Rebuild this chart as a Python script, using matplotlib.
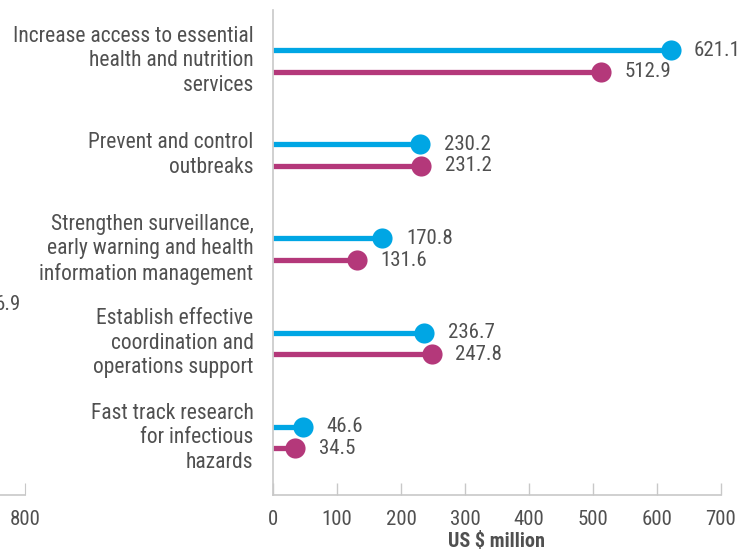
import matplotlib.pyplot as plt
from matplotlib import font_manager

############################### Données
categories = [
    "Increase access to essential\nhealth and nutrition\nservices",
    "Prevent and control\noutbreaks",
    "Strengthen surveillance,\nearly warning and health\ninformation management",
    "Establish effective\ncoordination and\noperations support",
    "Fast track research\nfor infectious\nhazards",
]
serie_bleue = [621.1, 230.2, 170.8, 236.7, 46.6]
serie_magenta = [512.9, 231.2, 131.6, 247.8, 34.5]
x_ticks = [0, 100, 200, 300, 400, 500, 600, 700]
x_label = "US $ million"

BLEU = "#00A6E4"
MAGENTA = "#B4387A"
GRIS_TEXTE = "#505050"
GRIS_AXE = "#c8c8c8"

noms = {f.name for f in font_manager.fontManager.ttflist}
police = next((p for p in ["Roboto Condensed", "Liberation Sans Narrow", "Lato", "Roboto"] if p in noms),
              "DejaVu Sans")
plt.rcParams['font.family'] = [police, 'DejaVu Sans']

W, H = 754, 556
fig = plt.figure(figsize=(W / 100, H / 100), dpi=100)

# Axe principal (pixels -> fraction)
gauche, droite, haut, bas = 273, 721, 10, 495
ax = fig.add_axes([gauche / W, 1 - bas / H, (droite - gauche) / W, (bas - haut) / H])

FS = 15.5
FS_VAL = 15
decalage = 0.115
y = list(range(len(categories)))
for i in y:
    for val, dy, col in [(serie_bleue[i], -decalage, BLEU), (serie_magenta[i], decalage, MAGENTA)]:
        ax.plot([0, val], [i + dy, i + dy], color=col, lw=3.8, solid_capstyle='butt', zorder=2)
        ax.plot([val], [i + dy], 'o', color=col, ms=14.5, mec='none', zorder=3)
        ax.annotate(f"{val:.1f}", (val, i + dy), xytext=(17, 0), textcoords='offset points',
                    va='center', ha='left', fontsize=FS_VAL, color=GRIS_TEXTE)
    ax.annotate(categories[i], (0, i), xytext=(-14, 0), textcoords='offset points',
                va='center', ha='right', fontsize=FS, color=GRIS_TEXTE, linespacing=1.22,
                annotation_clip=False)

ax.set_xlim(0, 700)
ax.set_ylim(len(categories) - 1 + 0.61, -0.54)
ax.set_xticks(x_ticks)
ax.set_yticks([])
ax.tick_params(axis='x', direction='in', length=9, color=GRIS_AXE, labelcolor=GRIS_TEXTE,
               labelsize=FS_VAL, pad=11, width=1)
for s in ['top', 'right']:
    ax.spines[s].set_visible(False)
for s in ['left', 'bottom']:
    ax.spines[s].set_color(GRIS_AXE)
    ax.spines[s].set_linewidth(1.2)
ax.set_xlabel(x_label, fontsize=14.5, fontweight='bold', color=GRIS_TEXTE, labelpad=2)

# Fragment du panneau de gauche (coupé par le cadrage)
ax2 = fig.add_axes([-0.3, 1 - bas / H, 0.3 + 25 / W, (bas - haut) / H])
ax2.set_xlim(0, 800)
ax2.set_xticks([800])
ax2.set_yticks([])
ax2.tick_params(axis='x', direction='in', length=9, color=GRIS_AXE, labelcolor=GRIS_TEXTE,
                labelsize=FS_VAL, pad=11)
for s in ['top', 'right', 'left']:
    ax2.spines[s].set_visible(False)
ax2.spines['bottom'].set_color(GRIS_AXE)
ax2.spines['bottom'].set_linewidth(1.2)
ax2.patch.set_visible(False)
fig.text(21 / W, 1 - 305 / H, "6.9", ha='right', va='center', fontsize=FS_VAL, color=GRIS_TEXTE)

fig.savefig("out.png", dpi=100)
